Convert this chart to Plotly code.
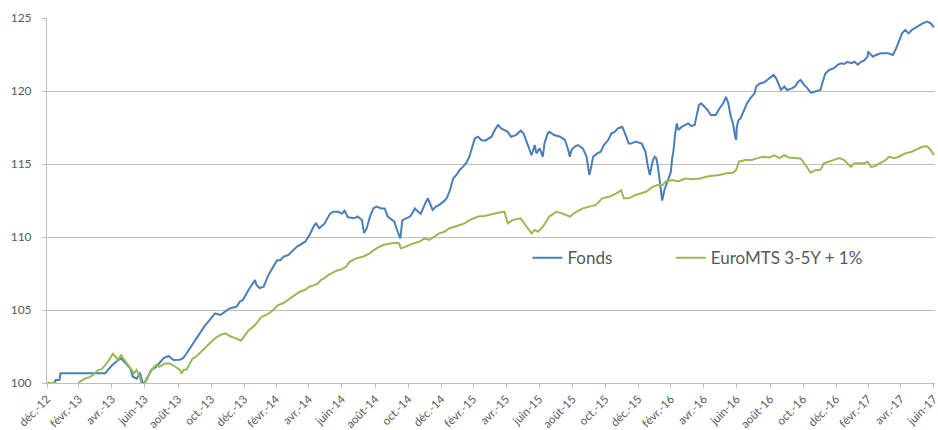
import plotly.graph_objects as go
import pandas as pd

# ---- data ----
fonds_dates = [
    "2012-12-31", "2013-01-13", "2013-01-16", "2013-01-23", "2013-01-25", "2013-02-12", "2013-03-09", "2013-03-27",
    "2013-04-18", "2013-04-23", "2013-04-30", "2013-05-08", "2013-05-17", "2013-05-23", "2013-06-03", "2013-06-08",
    "2013-06-15", "2013-06-21", "2013-06-27", "2013-07-03", "2013-07-12", "2013-07-21", "2013-08-04", "2013-08-13",
    "2013-08-22", "2013-09-03", "2013-09-09", "2013-09-15", "2013-09-24", "2013-10-03", "2013-10-09", "2013-10-18",
    "2013-10-28", "2013-11-07", "2013-11-17", "2013-11-26", "2013-12-04", "2013-12-17", "2013-12-23", "2013-12-29",
    "2014-01-08", "2014-01-20", "2014-01-23", "2014-01-29", "2014-02-05", "2014-02-14", "2014-02-23", "2014-03-02",
    "2014-03-08", "2014-03-14", "2014-03-23", "2014-04-08", "2014-04-23", "2014-05-01", "2014-05-10", "2014-05-13",
    "2014-05-19", "2014-05-29", "2014-06-08", "2014-06-14", "2014-06-23", "2014-06-30", "2014-07-05", "2014-07-11",
    "2014-07-23", "2014-07-29", "2014-08-06", "2014-08-10", "2014-08-15", "2014-08-21", "2014-08-27", "2014-09-02",
    "2014-09-11", "2014-09-17", "2014-09-23", "2014-09-30", "2014-10-05", "2014-10-09", "2014-10-13", "2014-10-16",
    "2014-10-20", "2014-10-27", "2014-11-03", "2014-11-09", "2014-11-12", "2014-11-18", "2014-11-23", "2014-11-30",
    "2014-12-06", "2014-12-10", "2014-12-15", "2014-12-21", "2014-12-27", "2015-01-04", "2015-01-10", "2015-01-16",
    "2015-01-22", "2015-01-28", "2015-02-03", "2015-02-09", "2015-02-15", "2015-02-21", "2015-02-28", "2015-03-03",
    "2015-03-09", "2015-03-15", "2015-03-22", "2015-04-03", "2015-04-09", "2015-04-12", "2015-04-15", "2015-04-21",
    "2015-04-27", "2015-05-03", "2015-05-09", "2015-05-18", "2015-05-27", "2015-06-01", "2015-06-07", "2015-06-13",
    "2015-06-16", "2015-06-22", "2015-06-25", "2015-07-01", "2015-07-04", "2015-07-07", "2015-07-10", "2015-07-16",
    "2015-07-19", "2015-07-28", "2015-08-08", "2015-08-17", "2015-08-23", "2015-08-26", "2015-08-29", "2015-09-04",
    "2015-09-10", "2015-09-19", "2015-09-26", "2015-09-29", "2015-10-01", "2015-10-04", "2015-10-08", "2015-10-16",
    "2015-10-22", "2015-10-28", "2015-11-05", "2015-11-11", "2015-11-17", "2015-11-23", "2015-12-01", "2015-12-05",
    "2015-12-08", "2015-12-13", "2015-12-17", "2015-12-26", "2016-01-06", "2016-01-10", "2016-01-13", "2016-01-17",
    "2016-01-21", "2016-01-24", "2016-01-27", "2016-01-30", "2016-02-02", "2016-02-05", "2016-02-08", "2016-02-11",
    "2016-02-13", "2016-02-17", "2016-02-23", "2016-02-29", "2016-03-02", "2016-03-05", "2016-03-08", "2016-03-11",
    "2016-03-14", "2016-03-20", "2016-04-01", "2016-04-07", "2016-04-13", "2016-04-17", "2016-04-21", "2016-04-25",
    "2016-05-01", "2016-05-07", "2016-05-13", "2016-05-22", "2016-05-29", "2016-06-05", "2016-06-10", "2016-06-14",
    "2016-06-19", "2016-06-23", "2016-06-27", "2016-06-29", "2016-06-30", "2016-07-03", "2016-07-07", "2016-07-13",
    "2016-07-19", "2016-07-25", "2016-08-02", "2016-08-05", "2016-08-11", "2016-08-20", "2016-08-29", "2016-09-06",
    "2016-09-11", "2016-09-17", "2016-09-20", "2016-09-26", "2016-10-01", "2016-10-10", "2016-10-16", "2016-10-21",
    "2016-10-26", "2016-11-02", "2016-11-08", "2016-11-14", "2016-11-23", "2016-12-02", "2016-12-05", "2016-12-11",
    "2016-12-18", "2016-12-27", "2017-01-03", "2017-01-09", "2017-01-15", "2017-01-21", "2017-01-28", "2017-02-03",
    "2017-02-09", "2017-02-15", "2017-02-21", "2017-02-27", "2017-02-28", "2017-03-03", "2017-03-09", "2017-03-15",
    "2017-03-24", "2017-04-06", "2017-04-15", "2017-04-21", "2017-04-27", "2017-05-02", "2017-05-08", "2017-05-14",
    "2017-05-20", "2017-05-29", "2017-06-09", "2017-06-18", "2017-06-24", "2017-06-30",
]
fonds_values = [
    100.0, 100.0, 100.2, 100.2, 100.66, 100.66, 100.64, 100.66,
    100.66, 100.9, 101.2, 101.46, 101.69, 101.46, 101.0, 100.43,
    100.3, 100.7, 99.9, 100.2, 100.9, 101.1, 101.7, 101.85,
    101.58, 101.6, 101.7, 102.0, 102.5, 103.06, 103.4, 103.86,
    104.3, 104.77, 104.66, 104.88, 105.1, 105.23, 105.57, 105.7,
    106.37, 107.05, 106.7, 106.5, 106.6, 107.4, 107.96, 108.4,
    108.4, 108.65, 108.77, 109.34, 109.68, 110.14, 110.82, 110.93,
    110.6, 110.93, 111.6, 111.73, 111.73, 111.6, 111.8, 111.35,
    111.28, 111.4, 111.16, 110.27, 110.6, 111.4, 111.96, 112.08,
    111.96, 111.96, 111.4, 111.16, 111.05, 110.6, 110.14, 109.9,
    111.16, 111.3, 111.4, 111.73, 111.96, 111.73, 111.6, 112.2,
    112.65, 112.3, 111.85, 112.08, 112.2, 112.42, 112.65, 113.2,
    114.0, 114.25, 114.59, 114.8, 115.05, 115.5, 116.3, 116.75,
    116.87, 116.64, 116.6, 116.87, 117.33, 117.55, 117.67, 117.44,
    117.33, 117.2, 116.87, 116.98, 117.28, 117.1, 116.53, 115.84,
    115.6, 116.3, 115.73, 116.07, 115.84, 115.5, 116.4, 117.1,
    117.2, 116.98, 116.87, 116.64, 115.96, 115.5, 115.96, 116.2,
    116.3, 116.07, 115.5, 114.7, 114.25, 114.7, 115.5, 115.73,
    115.84, 116.3, 116.64, 117.1, 117.2, 117.44, 117.55, 117.2,
    116.87, 116.4, 116.4, 116.53, 116.4, 116.1, 115.84, 114.93,
    114.25, 114.8, 115.27, 115.5, 115.4, 114.8, 114.0, 113.3,
    112.5, 113.2, 113.9, 114.47, 115.27, 115.96, 117.1, 117.78,
    117.33, 117.55, 117.78, 117.6, 117.67, 118.36, 119.04, 119.16,
    118.93, 118.7, 118.36, 118.36, 118.8, 119.16, 119.6, 119.2,
    118.25, 117.78, 116.87, 116.64, 117.55, 118.0, 118.13, 118.7,
    119.16, 119.5, 119.84, 120.3, 120.5, 120.6, 120.87, 121.1,
    120.87, 120.3, 120.07, 120.3, 120.07, 120.18, 120.3, 120.6,
    120.75, 120.4, 120.18, 119.88, 119.95, 120.07, 120.5, 121.2,
    121.44, 121.56, 121.8, 121.9, 121.85, 122.0, 121.9, 122.0,
    121.8, 122.0, 122.1, 122.35, 122.7, 122.6, 122.35, 122.47,
    122.58, 122.58, 122.47, 122.92, 123.5, 123.95, 124.18, 123.95,
    124.18, 124.4, 124.63, 124.75, 124.63, 124.35,
]

bench_dates = [
    "2012-12-31", "2013-01-06", "2013-01-15", "2013-01-24", "2013-02-12", "2013-02-27", "2013-03-02", "2013-03-11",
    "2013-03-20", "2013-03-26", "2013-04-05", "2013-04-11", "2013-04-17", "2013-04-23", "2013-04-30", "2013-05-02",
    "2013-05-07", "2013-05-11", "2013-05-17", "2013-05-23", "2013-05-31", "2013-06-06", "2013-06-10", "2013-06-15",
    "2013-06-21", "2013-06-24", "2013-06-30", "2013-07-03", "2013-07-09", "2013-07-15", "2013-07-21", "2013-07-27",
    "2013-08-06", "2013-08-15", "2013-08-21", "2013-08-27", "2013-09-03", "2013-09-06", "2013-09-10", "2013-09-15",
    "2013-09-21", "2013-09-27", "2013-10-03", "2013-10-09", "2013-10-15", "2013-10-28", "2013-11-07", "2013-11-17",
    "2013-11-26", "2013-11-30", "2013-12-07", "2013-12-16", "2013-12-22", "2013-12-25", "2014-01-02", "2014-01-08",
    "2014-01-17", "2014-01-23", "2014-02-01", "2014-02-10", "2014-02-19", "2014-02-28", "2014-03-04", "2014-03-13",
    "2014-03-22", "2014-04-04", "2014-04-13", "2014-04-22", "2014-05-01", "2014-05-10", "2014-05-16", "2014-05-22",
    "2014-05-28", "2014-06-05", "2014-06-11", "2014-06-20", "2014-06-29", "2014-07-08", "2014-07-14", "2014-07-26",
    "2014-08-08", "2014-08-20", "2014-09-02", "2014-09-14", "2014-09-27", "2014-10-08", "2014-10-14", "2014-10-17",
    "2014-10-26", "2014-11-09", "2014-11-21", "2014-11-30", "2014-12-09", "2014-12-18", "2014-12-27", "2015-01-06",
    "2015-01-15", "2015-01-25", "2015-02-03", "2015-02-12", "2015-02-21", "2015-02-28", "2015-03-09", "2015-03-21",
    "2015-04-06", "2015-04-15", "2015-04-27", "2015-05-03", "2015-05-12", "2015-05-27", "2015-06-07", "2015-06-16",
    "2015-06-22", "2015-06-28", "2015-07-07", "2015-07-19", "2015-08-01", "2015-08-13", "2015-08-26", "2015-09-07",
    "2015-09-19", "2015-10-01", "2015-10-13", "2015-10-25", "2015-11-08", "2015-11-20", "2015-11-29", "2015-12-04",
    "2015-12-13", "2015-12-26", "2016-01-14", "2016-01-27", "2016-02-05", "2016-02-14", "2016-02-20", "2016-03-02",
    "2016-03-14", "2016-03-26", "2016-04-11", "2016-04-23", "2016-05-04", "2016-05-16", "2016-05-29", "2016-06-11",
    "2016-06-23", "2016-06-29", "2016-07-04", "2016-07-16", "2016-07-28", "2016-08-08", "2016-08-17", "2016-08-29",
    "2016-09-08", "2016-09-17", "2016-09-26", "2016-10-04", "2016-10-16", "2016-10-26", "2016-11-02", "2016-11-08",
    "2016-11-14", "2016-11-23", "2016-12-02", "2016-12-08", "2016-12-18", "2016-12-27", "2017-01-06", "2017-01-15",
    "2017-01-21", "2017-01-27", "2017-02-03", "2017-02-12", "2017-02-21", "2017-02-27", "2017-03-06", "2017-03-12",
    "2017-03-21", "2017-04-02", "2017-04-08", "2017-04-17", "2017-04-26", "2017-05-08", "2017-05-20", "2017-05-29",
    "2017-06-09", "2017-06-18", "2017-06-24", "2017-06-30",
]
bench_values = [
    100.0, 100.0, 100.0, 99.9, 99.8, 99.95, 100.1, 100.3,
    100.4, 100.55, 100.9, 100.93, 101.23, 101.46, 101.9, 102.0,
    101.8, 101.58, 101.9, 101.58, 101.23, 100.9, 100.66, 100.9,
    100.4, 99.9, 99.9, 100.3, 100.66, 101.0, 101.23, 101.1,
    101.34, 101.34, 101.23, 101.07, 100.9, 100.66, 100.9, 100.9,
    101.34, 101.69, 101.8, 102.0, 102.26, 102.7, 103.06, 103.3,
    103.4, 103.3, 103.17, 103.06, 102.95, 102.9, 103.3, 103.6,
    103.86, 104.09, 104.54, 104.66, 104.88, 105.23, 105.34, 105.46,
    105.68, 106.03, 106.25, 106.37, 106.6, 106.7, 106.8, 107.05,
    107.17, 107.4, 107.5, 107.69, 107.78, 107.96, 108.3, 108.54,
    108.65, 108.88, 109.22, 109.45, 109.56, 109.6, 109.56, 109.22,
    109.34, 109.56, 109.68, 109.9, 109.8, 110.0, 110.25, 110.36,
    110.6, 110.7, 110.82, 110.93, 111.16, 111.28, 111.4, 111.44,
    111.6, 111.66, 111.73, 110.93, 111.16, 111.28, 110.7, 110.25,
    110.48, 110.36, 110.7, 111.4, 111.73, 111.6, 111.4, 111.73,
    111.96, 112.08, 112.2, 112.65, 112.77, 112.99, 113.2, 112.65,
    112.65, 112.88, 113.1, 113.45, 113.56, 113.56, 113.8, 113.9,
    113.8, 114.0, 113.95, 114.0, 114.13, 114.2, 114.25, 114.36,
    114.4, 114.6, 115.16, 115.27, 115.27, 115.4, 115.5, 115.45,
    115.6, 115.4, 115.6, 115.45, 115.4, 115.38, 115.05, 114.7,
    114.4, 114.59, 114.6, 115.05, 115.16, 115.27, 115.4, 115.27,
    115.05, 114.8, 115.05, 115.05, 115.05, 115.16, 114.8, 114.85,
    115.05, 115.27, 115.5, 115.4, 115.5, 115.73, 115.84, 116.0,
    116.2, 116.2, 115.96, 115.6,
]

series_names = ["Fonds", "EuroMTS 3-5Y + 1%"]
series_colors = ["#4A7EBB", "#98B954"]

tick_dates = [
    "2012-12-31", "2013-02-28", "2013-04-30", "2013-06-30", "2013-08-31", "2013-10-31", "2013-12-31",
    "2014-02-28", "2014-04-30", "2014-06-30", "2014-08-31", "2014-10-31", "2014-12-31",
    "2015-02-28", "2015-04-30", "2015-06-30", "2015-08-31", "2015-10-31", "2015-12-31",
    "2016-02-29", "2016-04-30", "2016-06-30", "2016-08-31", "2016-10-31", "2016-12-31",
    "2017-02-28", "2017-04-30", "2017-06-30",
]
tick_labels = [
    "déc.-12", "févr.-13", "avr.-13", "juin-13", "août-13", "oct.-13", "déc.-13",
    "févr.-14", "avr.-14", "juin-14", "août-14", "oct.-14", "déc.-14",
    "févr.-15", "avr.-15", "juin-15", "août-15", "oct.-15", "déc.-15",
    "févr.-16", "avr.-16", "juin-16", "août-16", "oct.-16", "déc.-16",
    "févr.-17", "avr.-17", "juin-17",
]
y_ticks = [100, 105, 110, 115, 120, 125]

# ---- figure ----
fig = go.Figure()
fig.add_trace(go.Scatter(x=pd.to_datetime(fonds_dates), y=fonds_values, mode="lines",
                         name=series_names[0], legend="legend",
                         line=dict(color=series_colors[0], width=2)))
fig.add_trace(go.Scatter(x=pd.to_datetime(bench_dates), y=bench_values, mode="lines",
                         name=series_names[1], legend="legend2",
                         line=dict(color=series_colors[1], width=2)))

grid = "#BFBFBF"
txt = "#595959"
leg_common = dict(orientation="h", y=0.342, xanchor="left", yanchor="middle",
                  font=dict(size=17, color=txt), bgcolor="rgba(0,0,0,0)")
fig.update_layout(
    width=938, height=430,
    margin=dict(l=47, r=3, t=18, b=47, autoexpand=False),
    paper_bgcolor="white", plot_bgcolor="white",
    font=dict(family="Lato, 'Open Sans', sans-serif", color=txt),
    showlegend=True,
    legend=dict(x=0.541, **leg_common),
    legend2=dict(x=0.7025, **leg_common),
)
fig.update_xaxes(
    range=[pd.Timestamp("2012-12-31"), pd.Timestamp("2017-07-02")],
    tickmode="array", tickvals=pd.to_datetime(tick_dates), ticktext=tick_labels,
    tickangle=-45, tickfont=dict(size=11.5, color=txt),
    showgrid=False, showline=True, linecolor=grid, linewidth=1,
    ticks="outside", ticklen=4, tickcolor=grid, zeroline=False,
    automargin=False, ticklabeloverflow="allow",
)
fig.update_yaxes(
    range=[100, 125], tickmode="array", tickvals=y_ticks,
    tickfont=dict(size=12, color=txt),
    showgrid=True, gridcolor=grid, gridwidth=1,
    showline=True, linecolor=grid, linewidth=1,
    ticks="outside", ticklen=4, tickcolor=grid, ticklabelstandoff=8, zeroline=False,
    automargin=False,
)

fig.write_html("out.html", config={"displayModeBar": False},
               post_script="document.body.style.margin='0';")
